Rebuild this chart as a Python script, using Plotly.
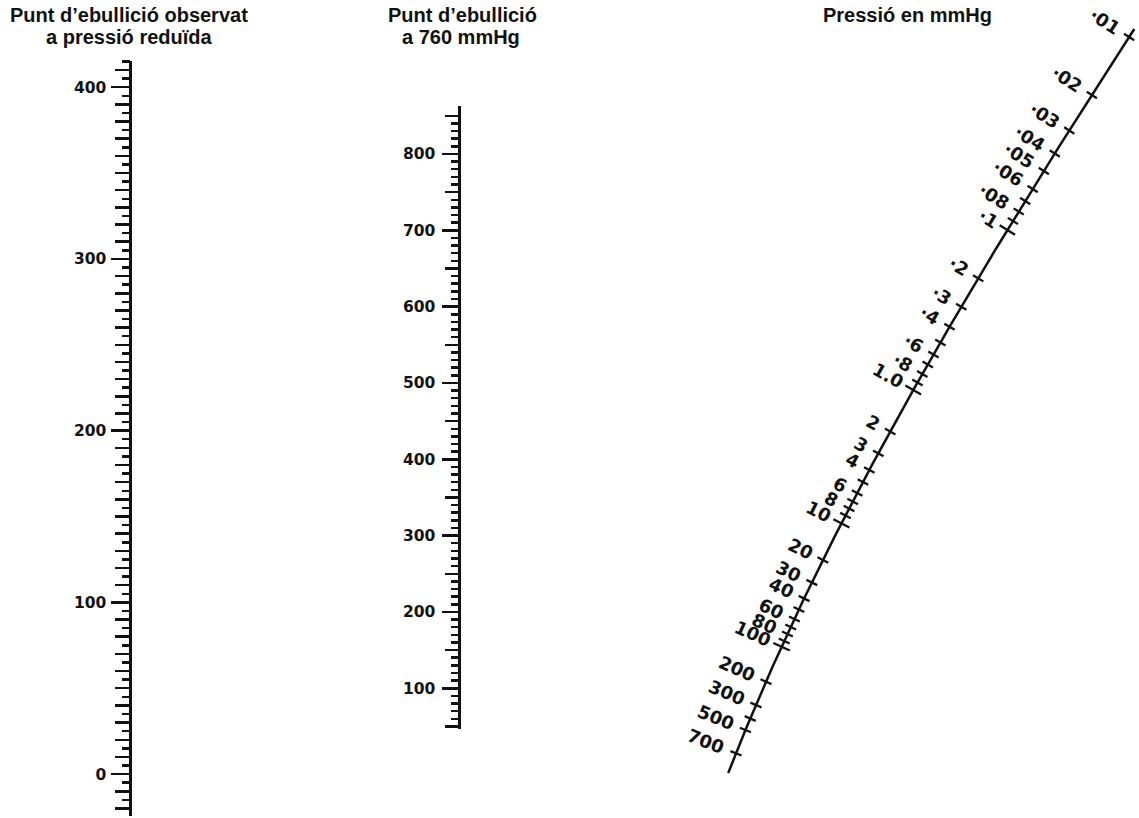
import numpy as np
import plotly.graph_objects as go

# ---------------- data read from the reference nomograph ----------------
# Left scale: observed boiling point at reduced pressure (deg C)
obs_bp_labels = [0, 100, 200, 300, 400]
obs_bp_ticks10 = [v for v in range(-20, 411, 10) if v % 100]
obs_bp_ticks5 = list(range(-15, 416, 10))
obs_bp_extent = [-24.5, 415]

# Middle scale: boiling point at 760 mmHg (deg C)
bp760_labels = [100, 200, 300, 400, 500, 600, 700, 800]
bp760_ticks50 = [50, 150, 250, 350, 450, 550, 650, 750, 850]
bp760_ticks10 = [v for v in range(60, 851, 10) if v % 50]
bp760_extent = [47, 863]

# Right scale: pressure in mmHg, position of each tick on the curved scale
pressure_vals = [0.01, 0.02, 0.03, 0.04, 0.05, 0.06, 0.07, 0.08, 0.09, 0.1,
                 0.2, 0.3, 0.4, 0.5, 0.6, 0.7, 0.8, 0.9, 1.0,
                 2, 3, 4, 5, 6, 7, 8, 9, 10,
                 20, 30, 40, 50, 60, 70, 80, 90, 100,
                 200, 300, 400, 500, 700]
pressure_x = [1131, 1092.7, 1068.3, 1055, 1044, 1031.7, 1023, 1016.7, 1010, 1006.7,
              976.7, 961.7, 951, 941.7, 936, 930, 924, 920, 915,
              890, 876.7, 867.3, 861.7, 857.3, 853.3, 850, 846.7, 841.7,
              821.7, 810, 803.3, 798, 794, 791, 788, 784, 780,
              763.3, 756.7, 751.7, 746.7, 736.7]
pressure_y = [37, 95, 130.5, 153.5, 171, 189, 201, 211.5, 221, 230,
              278.3, 306.8, 326.8, 342.5, 354.5, 364.5, 374, 382.5, 390,
              431.5, 453.3, 470, 482, 493, 501.5, 508.5, 515.5, 523.3,
              560, 582.5, 598.5, 609.5, 619, 627, 634, 641, 646.7,
              681.7, 705, 718.5, 730, 753.3]
pressure_major = [0.1, 1.0, 10, 100]
pressure_label_vals = [0.01, 0.02, 0.03, 0.04, 0.05, 0.06, 0.08, 0.1,
                       0.2, 0.3, 0.4, 0.6, 0.8, 1.0,
                       2, 3, 4, 6, 8, 10,
                       20, 30, 40, 60, 80, 100,
                       200, 300, 500, 700]
pressure_label_text = ['·01', '·02', '·03', '·04', '·05', '·06', '·08', '·1',
                       '·2', '·3', '·4', '·6', '·8', '1.0',
                       '2', '3', '4', '6', '8', '10',
                       '20', '30', '40', '60', '80', '100',
                       '200', '300', '500', '700']
curve_end_y = [29, 773]

titles = [
    ("Punt d’ebullició observat", 129, 15),
    ("a pressió reduïda", 129, 37),
    ("Punt d’ebullició", 462, 15),
    ("a 760 mmHg", 461, 37),
    ("Pressió en mmHg", 907, 15),
]

# ---------------- layout constants ----------------
W, H = 1139, 818
LEFT_X, MID_X = 129.5, 458.5
LEFT_PX0, LEFT_PPU = 774.1, 1.7173   # pixel row of 0 deg, pixels per degree
MID_PX0, MID_PPU = 764.6, 0.7633
BLACK = "#111111"
TICKFONT = dict(family="DejaVu Sans", size=15.5, color=BLACK, weight="bold")


def domain(extent, px0, ppu):
    lo = px0 - ppu * extent[0]
    hi = px0 - ppu * extent[1]
    return [1 - lo / H, 1 - hi / H]


fig = go.Figure()

# dummy traces so every scale axis is drawn
for ax in ["y2", "y3", "y4", "y5", "y6", "y7"]:
    fig.add_trace(go.Scatter(x=[], y=[], xaxis="x", yaxis=ax, showlegend=False))


def scale_axis(extent, px0, ppu, xpos, vals, ticklen, tickwidth, labels=False,
               overlay=None, line=False, standoff=0):
    d = dict(anchor="free", position=xpos / W, range=extent, side="left",
             ticks="outside", tickmode="array", tickvals=vals, ticklen=ticklen,
             tickwidth=tickwidth, tickcolor=BLACK, showgrid=False, zeroline=False,
             showticklabels=labels, tickfont=TICKFONT, fixedrange=True)
    if labels:
        d["ticktext"] = [str(v) for v in vals]
        d["ticklabelstandoff"] = standoff
    if overlay:
        d["overlaying"] = overlay
        d["showline"] = False
    else:
        d["domain"] = domain(extent, px0, ppu)
        d["showline"] = line
        d["linewidth"] = 3
        d["linecolor"] = BLACK
    return d


# ---------------- pressure curve ----------------
py = np.array(pressure_y, dtype=float)
px = np.array(pressure_x, dtype=float)
x_of_y = np.poly1d(np.polyfit(py, px, 3))
dxdy = x_of_y.deriv()

yy = np.linspace(curve_end_y[0], curve_end_y[1], 300)
fig.add_trace(go.Scatter(x=x_of_y(yy), y=yy, mode="lines",
                         line=dict(color=BLACK, width=2.5), showlegend=False,
                         hoverinfo="skip"))


def normal_at(y):
    s = dxdy(y)
    norm = np.hypot(s, 1.0)
    return np.array([-1.0 / norm, s / norm])  # points up-left


tx, ty = [], []
for v, yv in zip(pressure_vals, py):
    p = np.array([x_of_y(yv), yv])
    n = normal_at(yv)
    h = 9.0 if v in pressure_major else 6.0
    a, b = p - h * n, p + h * n
    tx += [a[0], b[0], None]
    ty += [a[1], b[1], None]
fig.add_trace(go.Scatter(x=tx, y=ty, mode="lines", line=dict(color=BLACK, width=2.3),
                         showlegend=False, hoverinfo="skip"))

LABEL_SIZE = 18
char_w = {".": 0.38, "·": 0.38}
annotations = []
for v, txt in zip(pressure_label_vals, pressure_label_text):
    yv = py[pressure_vals.index(v)]
    p = np.array([x_of_y(yv), yv])
    n = normal_at(yv)
    w = LABEL_SIZE * sum(char_w.get(c, 0.696) for c in txt)
    c = p + n * (13 + w / 2)
    ang = np.degrees(np.arctan2(-dxdy(yv), 1.0))
    annotations.append(dict(x=c[0], y=c[1], xref="x", yref="y", text=txt,
                            showarrow=False, textangle=ang, xanchor="center",
                            yanchor="middle",
                            font=dict(family="DejaVu Sans", size=LABEL_SIZE,
                                      color=BLACK, weight="bold")))

for txt, x, y in titles:
    annotations.append(dict(x=x, y=y, xref="x", yref="y", text=txt, showarrow=False,
                            xanchor="center", yanchor="middle",
                            font=dict(family="Liberation Sans", size=20,
                                      color=BLACK, weight="bold")))

fig.update_layout(
    width=W, height=H, margin=dict(l=0, r=0, t=0, b=0),
    paper_bgcolor="white", plot_bgcolor="rgba(0,0,0,0)", showlegend=False,
    xaxis=dict(range=[0, W], visible=False, fixedrange=True, domain=[0, 1]),
    yaxis=dict(range=[H, 0], visible=False, fixedrange=True, domain=[0, 1]),
    yaxis2=scale_axis(obs_bp_extent, LEFT_PX0, LEFT_PPU, LEFT_X, obs_bp_labels,
                      18, 2.5, labels=True, line=True, standoff=1),
    yaxis3=scale_axis(obs_bp_extent, LEFT_PX0, LEFT_PPU, LEFT_X, obs_bp_ticks10,
                      15, 2.5, overlay="y2"),
    yaxis4=scale_axis(obs_bp_extent, LEFT_PX0, LEFT_PPU, LEFT_X, obs_bp_ticks5,
                      7.5, 2.5, overlay="y2"),
    yaxis5=scale_axis(bp760_extent, MID_PX0, MID_PPU, MID_X, bp760_labels,
                      16, 2.5, labels=True, line=True, standoff=3),
    yaxis6=scale_axis(bp760_extent, MID_PX0, MID_PPU, MID_X, bp760_ticks50,
                      14, 2.5, overlay="y5"),
    yaxis7=scale_axis(bp760_extent, MID_PX0, MID_PPU, MID_X, bp760_ticks10,
                      8, 2.5, overlay="y5"),
    annotations=annotations,
)

fig.write_html("out.html",
               config={"displayModeBar": False, "staticPlot": True},
               post_script="document.body.style.margin='0px';"
                           "document.body.style.overflow='hidden';")
